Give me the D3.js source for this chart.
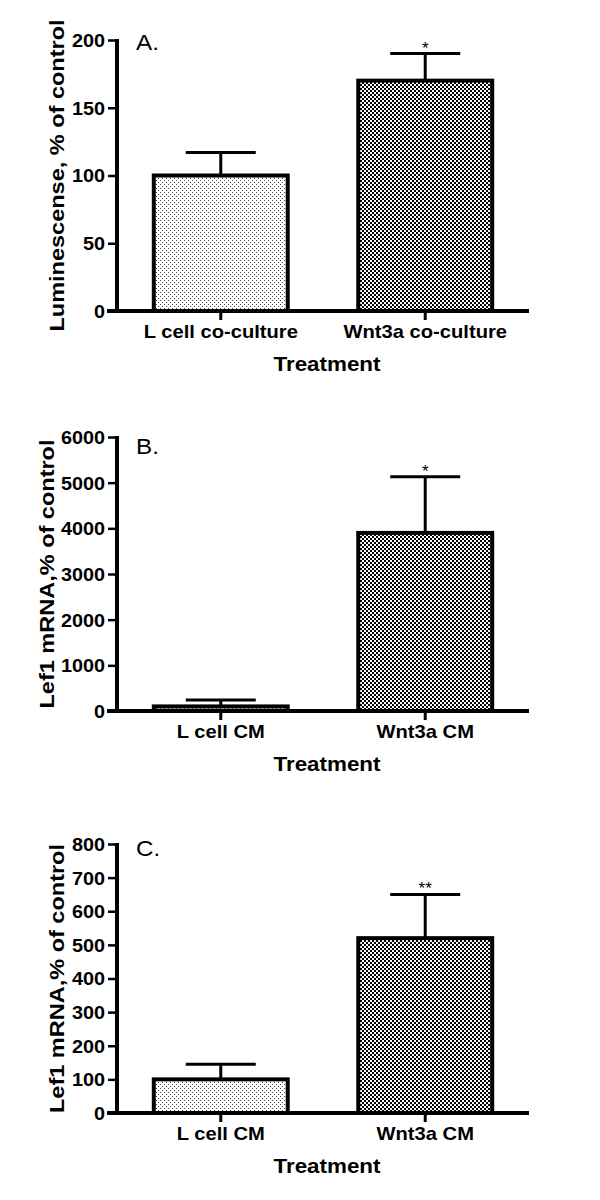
<!DOCTYPE html>
<html>
<head>
<meta charset="utf-8">
<script src="https://cdn.jsdelivr.net/npm/d3@7"></script>
<style>
  html, body { margin: 0; padding: 0; background: #fff; }
  svg { display: block; }
  text { font-family: "Liberation Sans", Arial, sans-serif; fill: #000; }
</style>
</head>
<body>
<svg id="chart" width="600" height="1200"></svg>
<script>
// ---- data ----
const categoriesA = ["L cell co-culture", "Wnt3a co-culture"];
const valuesA = [100, 170];
const errorsA = [17, 20];
const starsA = ["", "*"];
const ticksA = [0, 50, 100, 150, 200];

const categoriesB = ["L cell CM", "Wnt3a CM"];
const valuesB = [100, 3900];
const errorsB = [140, 1230];
const starsB = ["", "*"];
const ticksB = [0, 1000, 2000, 3000, 4000, 5000, 6000];

const categoriesC = ["L cell CM", "Wnt3a CM"];
const valuesC = [100, 520];
const errorsC = [45, 130];
const starsC = ["", "**"];
const ticksC = [0, 100, 200, 300, 400, 500, 600, 700, 800];

const panelLetters = ["A.", "B.", "C."];
const yTitles = ["Luminescense, % of control", "Lef1 mRNA,% of control", "Lef1 mRNA,% of control"];
const xTitle = "Treatment";

// ---- layout (styles / positions) ----
const layout = [
  { top: 40,  bottom: 311,  yTitleX: 64,   letterY: 50 },
  { top: 437, bottom: 711,  yTitleX: 54,   letterY: 454 },
  { top: 844, bottom: 1113, yTitleX: 64,   letterY: 856 }
];
const axisX = 117, axisRight = 529, xAxisStart = 107;

const svg = d3.select("#chart");
svg.append("rect").attr("width", 600).attr("height", 1200).attr("fill", "#fff");

const defs = svg.append("defs");
const dots = defs.append("pattern").attr("id", "dots").attr("patternUnits", "userSpaceOnUse")
  .attr("width", 4).attr("height", 4);
dots.append("rect").attr("width", 4).attr("height", 4).attr("fill", "#fff");
dots.append("rect").attr("x", 0).attr("y", 0).attr("width", 1).attr("height", 1).attr("fill", "#444");
dots.append("rect").attr("x", 2).attr("y", 2).attr("width", 1).attr("height", 1).attr("fill", "#444");

const checks = defs.append("pattern").attr("id", "checks").attr("patternUnits", "userSpaceOnUse")
  .attr("width", 4).attr("height", 4);
checks.append("rect").attr("width", 4).attr("height", 4).attr("fill", "#fff");
checks.append("rect").attr("x", 0).attr("y", 0).attr("width", 2).attr("height", 2).attr("fill", "#000");
checks.append("rect").attr("x", 2).attr("y", 2).attr("width", 2).attr("height", 2).attr("fill", "#000");

const fills = ["url(#dots)", "url(#checks)"];

const panels = [
  { cats: categoriesA, vals: valuesA, errs: errorsA, stars: starsA, ticks: ticksA },
  { cats: categoriesB, vals: valuesB, errs: errorsB, stars: starsB, ticks: ticksB },
  { cats: categoriesC, vals: valuesC, errs: errorsC, stars: starsC, ticks: ticksC }
];

panels.forEach((p, i) => {
  const L = layout[i];
  const g = svg.append("g");
  const x = d3.scaleBand().domain(p.cats).range([axisX, axisRight])
    .paddingInner(0.345).paddingOuter(0.18);
  const yMax = p.ticks[p.ticks.length - 1];
  const y = d3.scaleLinear().domain([0, yMax]).range([L.bottom, L.top]);

  // bars
  g.selectAll("rect.bar").data(p.cats).join("rect")
    .attr("class", "bar")
    .attr("x", d => x(d))
    .attr("width", x.bandwidth())
    .attr("y", (d, j) => y(p.vals[j]))
    .attr("height", (d, j) => y(0) - y(p.vals[j]))
    .attr("fill", (d, j) => fills[j])
    .attr("stroke", "#000").attr("stroke-width", 4);

  // error bars (upper only)
  const capHalf = 35;
  p.cats.forEach((c, j) => {
    const cx = x(c) + x.bandwidth() / 2;
    const yTop = y(p.vals[j] + p.errs[j]);
    g.append("line").attr("x1", cx).attr("x2", cx)
      .attr("y1", y(p.vals[j])).attr("y2", yTop)
      .attr("stroke", "#000").attr("stroke-width", 3);
    g.append("line").attr("x1", cx - capHalf).attr("x2", cx + capHalf)
      .attr("y1", yTop).attr("y2", yTop)
      .attr("stroke", "#000").attr("stroke-width", 3);
    if (p.stars[j]) {
      g.append("text").attr("x", cx).attr("y", yTop)
        .attr("text-anchor", "middle").attr("font-size", 17)
        .text(p.stars[j]);
    }
  });

  // y axis
  const ya = g.append("g").attr("transform", `translate(${axisX},0)`)
    .call(d3.axisLeft(y).tickValues(p.ticks).tickFormat(d3.format("d"))
      .tickSize(9).tickSizeOuter(0).tickPadding(3));
  ya.select(".domain").attr("stroke-width", 4).attr("d", `M0,${L.top - 1}V${L.bottom}`);
  ya.selectAll(".tick line").attr("stroke-width", 2.5);
  ya.selectAll(".tick text")
    .attr("font-size", 18).attr("font-weight", "bold")
    .attr("font-family", "'Liberation Sans', Arial, sans-serif")
    .attr("x", -12 / 1.1).attr("dy", "0.36em")
    .attr("transform", "scale(1.1,1)");

  // x axis
  const xa = g.append("g").attr("transform", `translate(0,${L.bottom})`)
    .call(d3.axisBottom(x).tickSize(9).tickSizeOuter(0));
  xa.select(".domain").attr("stroke-width", 4).attr("d", `M${xAxisStart},0H${axisRight}`);
  xa.selectAll(".tick line").attr("stroke-width", 3);
  xa.selectAll(".tick text")
    .attr("font-size", 18).attr("font-weight", "bold")
    .attr("font-family", "'Liberation Sans', Arial, sans-serif")
    .attr("y", 27).attr("dy", 0)
    .attr("transform", "scale(1.12,1)");

  // x title
  g.append("text")
    .attr("transform", `translate(${(axisX + axisRight) / 2 + 4},${L.bottom + 60}) scale(1.12,1)`)
    .attr("text-anchor", "middle").attr("font-size", 20).attr("font-weight", "bold")
    .text(xTitle);

  // y title
  g.append("text")
    .attr("transform", `translate(${L.yTitleX},${(L.top + L.bottom) / 2}) rotate(-90) scale(1.12,1)`)
    .attr("text-anchor", "middle").attr("font-size", 21).attr("font-weight", "bold")
    .text(yTitles[i]);

  // panel letter
  g.append("text")
    .attr("transform", `translate(136,${L.letterY}) scale(1.1,1)`)
    .attr("font-size", 22)
    .text(panelLetters[i]);
});
</script>
</body>
</html>
